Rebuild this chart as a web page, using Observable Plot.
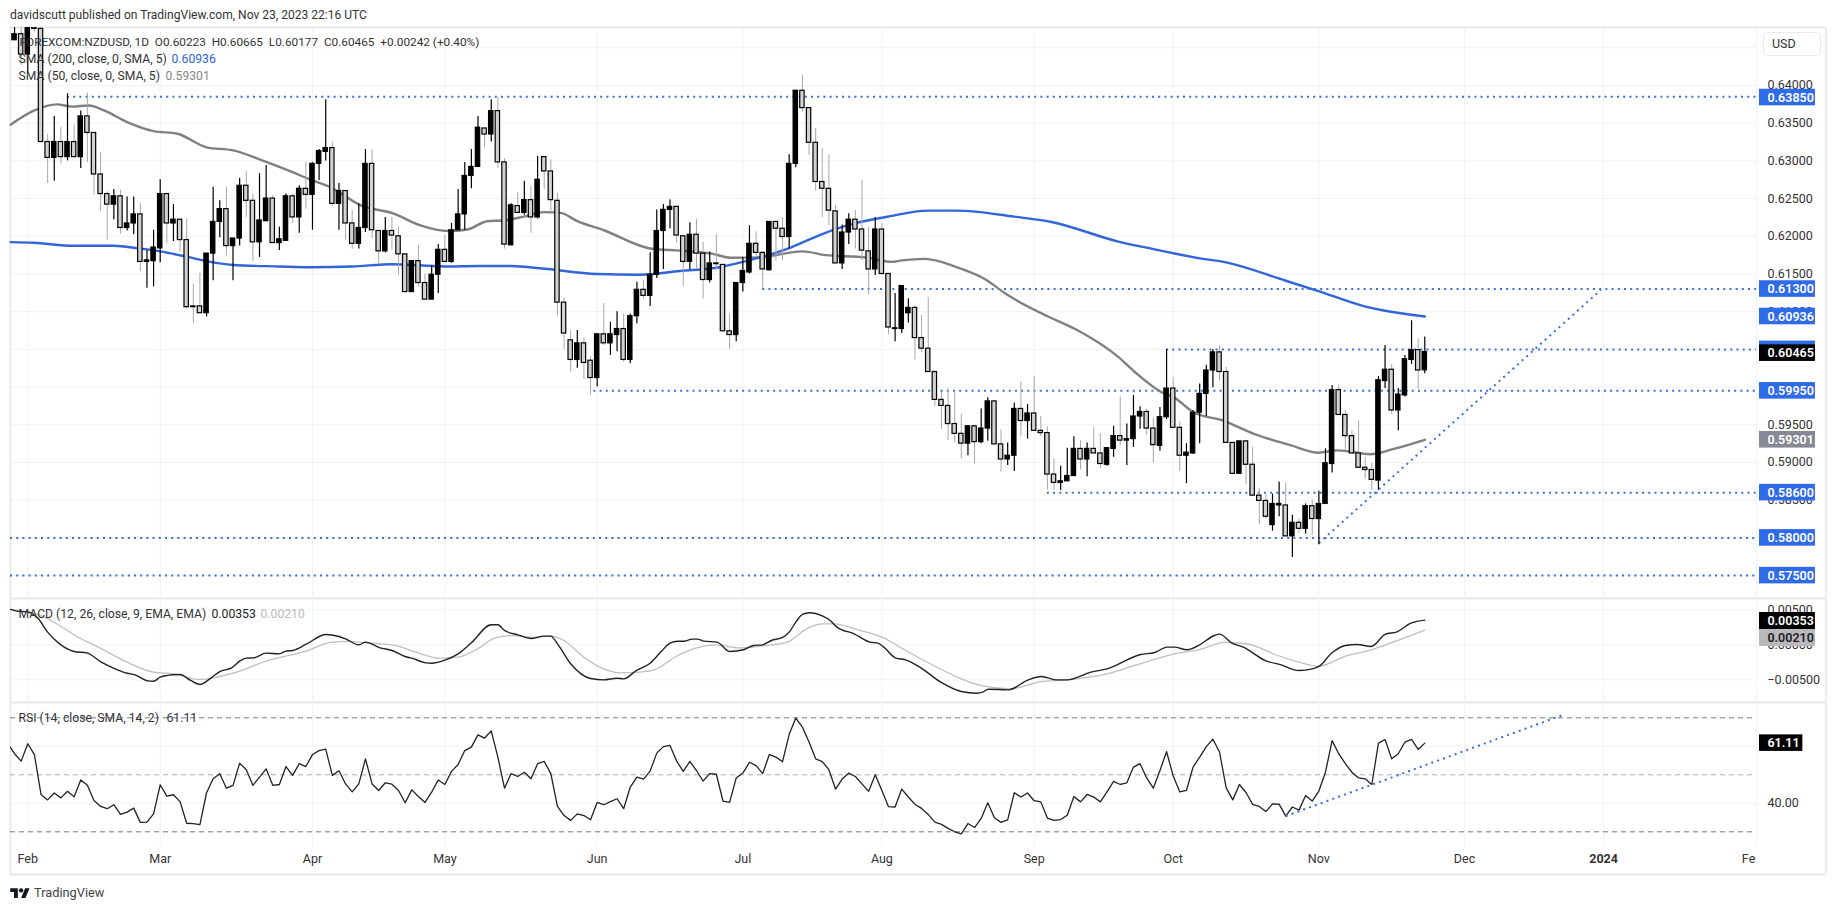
<!DOCTYPE html>
<html>
<head>
<meta charset="utf-8">
<script src="https://cdn.jsdelivr.net/npm/d3@7"></script>
<script src="https://cdn.jsdelivr.net/npm/@observablehq/plot@0.6"></script>
<style>
html,body{margin:0;padding:0;background:#fff;overflow:hidden;}
#page{position:relative;width:1835px;height:909px;font-family:Roboto,sans-serif;color:#333;}
#head{height:27px;line-height:30px;padding-left:10px;font-size:12.05px;box-sizing:border-box;white-space:nowrap;}
#page svg.plot, #page figure{display:block;margin:0;}
#usd{position:absolute;left:1763px;top:32px;width:58px;height:24px;box-sizing:border-box;border:1px solid #ececef;border-radius:4px;background:#fff;font-size:12.5px;line-height:22px;padding-left:8px;color:#333;}
#foot{position:absolute;left:10px;top:884px;height:16px;display:flex;align-items:center;gap:4px;font-size:12.8px;color:#444;}
</style>
</head>
<body>
<div id="page">
  <div id="head">davidscutt published on TradingView.com, Nov 23, 2023 22:16 UTC</div>
  <div id="main"></div>
  <div id="macd"></div>
  <div id="rsi"></div>
  <div id="usd">USD</div>
  <div id="foot"><svg width="20" height="12" viewBox="0 0 36 22"><path fill="#131722" d="M14 22H7V11H0V4h14v18zM28 22h-8l7.5-18h8L28 22z"/><circle fill="#131722" cx="20" cy="8" r="4"/></svg><span>TradingView</span></div>
</div>
<script>
// trading-day number of the first candle (0 = 1 Feb 2023)
const firstBar = -2;
// NZD/USD daily candles, in pips (price x 10000)
const opens = [
6460,6468,6441,6477,6475,6325,6304,6325,6305,6325,
6305,6359,6337,6282,6256,6242,6253,6211,6217,6229,
6166,6167,6184,6256,6217,6222,6195,6107,6107,6098,
6177,6219,6236,6187,6197,6267,6247,6192,6220,6250,
6191,6194,6253,6225,6263,6255,6296,6312,6317,6243,
6260,6217,6190,6211,6296,6207,6180,6207,6200,6176,
6126,6167,6138,6116,6149,6182,6166,6208,6229,6280,
6292,6343,6335,6366,6298,6188,6240,6231,6248,6225,
6305,6286,6247,6112,6062,6036,6058,6035,6012,6070,
6058,6069,6077,6036,6094,6129,6121,6149,6207,6235,
6239,6200,6166,6202,6177,6142,6164,6162,6074,6069,
6138,6152,6190,6178,6155,6219,6210,6199,6296,6393,
6370,6324,6272,6263,6233,6164,6205,6222,6209,6180,
6156,6209,6150,6077,6077,6098,6105,6065,6051,6020,
5983,5975,5951,5938,5925,5948,5927,5945,5981,5924,
5904,5909,5971,5955,5965,5942,5939,5884,5873,5875,
5882,5918,5904,5918,5912,5897,5918,5935,5929,5931,
5961,5967,5945,5922,5960,5998,5946,5909,5912,5966,
5991,6022,6046,6020,5926,5885,5928,5897,5856,5849,
5817,5843,5843,5802,5820,5812,5842,5825,5845,5898,
5996,5963,5935,5912,5893,5890,5876,6008,6023,5969,
5989,6036,6049,6022.3];
const highs = [
6490,6490,6490,6490,6478,6335,6359,6345,6389,6347,
6366,6390,6337,6311,6259,6262,6261,6252,6252,6243,
6181,6208,6275,6256,6242,6222,6223,6137,6151,6177,
6265,6247,6265,6197,6277,6286,6256,6283,6294,6254,
6212,6256,6256,6267,6298,6298,6315,6381,6325,6270,
6260,6234,6243,6315,6315,6207,6225,6225,6212,6176,
6167,6188,6150,6161,6189,6201,6217,6262,6298,6315,
6359,6343,6381,6384,6303,6243,6258,6273,6267,6306,
6305,6301,6257,6118,6075,6075,6065,6040,6070,6111,
6086,6100,6097,6097,6139,6141,6178,6235,6242,6248,
6239,6200,6218,6222,6192,6179,6202,6162,6097,6138,
6172,6214,6206,6178,6219,6219,6225,6308,6393,6413,
6370,6343,6316,6308,6241,6215,6230,6234,6274,6212,
6225,6217,6150,6124,6134,6117,6108,6095,6119,6020,
5993,5998,5993,5964,5948,5948,5971,5986,5981,5943,
5926,5979,6007,5977,6014,5961,5947,5905,5895,5919,
5934,5929,5926,5946,5938,5919,5948,5987,5951,5989,
5974,5971,5958,5973,6050,6013,5954,5925,5969,6004,
6029,6050,6055,6026,5926,5928,5928,5920,5866,5858,
5858,5874,5873,5830,5825,5845,5850,5862,5918,6002,
6002,5969,5942,5955,5907,5899,6014,6055,6030,5998,
6042,6088,6064,6066.5];
const lows = [
6460,6426,6418,6470,6325,6270,6273,6296,6300,6305,
6290,6298,6254,6233,6195,6222,6203,6207,6202,6153,
6131,6133,6165,6190,6193,6179,6104,6084,6098,6093,
6141,6198,6174,6141,6187,6225,6167,6172,6220,6191,
6181,6194,6217,6204,6236,6208,6274,6300,6239,6208,
6195,6183,6183,6205,6197,6163,6178,6181,6149,6126,
6126,6133,6116,6116,6124,6166,6164,6208,6208,6263,
6292,6317,6325,6290,6183,6188,6231,6228,6204,6223,
6262,6232,6094,6050,6020,6025,6010,5990,6000,6055,
6042,6047,6033,6031,6084,6117,6107,6144,6156,6210,
6191,6133,6156,6157,6117,6138,6155,6074,6050,6060,
6126,6150,6172,6130,6154,6167,6168,6183,6291,6365,
6307,6260,6225,6214,6164,6156,6189,6183,6168,6122,
6148,6150,6069,6060,6071,6085,6036,6046,6020,5974,
5944,5929,5926,5905,5909,5898,5925,5928,5924,5887,
5896,5888,5934,5931,5942,5934,5863,5863,5863,5875,
5882,5890,5881,5912,5892,5895,5907,5922,5896,5920,
5944,5936,5900,5915,5957,5946,5888,5872,5911,5925,
5961,5999,6008,5926,5885,5885,5871,5856,5817,5825,
5809,5828,5802,5774,5806,5805,5803,5791,5845,5886,
5963,5916,5912,5893,5878,5863,5863,5998,5964,5942,
5987,6030,5997,6017.7];
const closes = [
6468,6441,6476,6475,6325,6304,6325,6305,6325,6305,
6359,6337,6282,6256,6242,6253,6211,6217,6229,6166,
6168,6185,6256,6217,6222,6195,6106,6106,6098,6177,
6219,6236,6187,6197,6267,6247,6192,6221,6250,6191,
6196,6253,6225,6263,6255,6296,6313,6317,6243,6260,
6217,6190,6211,6296,6208,6180,6207,6201,6176,6126,
6167,6138,6116,6149,6182,6166,6208,6229,6280,6292,
6344,6335,6366,6298,6189,6241,6231,6248,6225,6275,
6286,6248,6112,6071,6036,6058,6032,6012,6070,6058,
6070,6077,6036,6094,6129,6121,6149,6207,6235,6239,
6201,6166,6202,6177,6142,6164,6163,6074,6069,6138,
6154,6190,6178,6156,6219,6210,6199,6296,6393,6370,
6324,6272,6263,6234,6164,6205,6222,6209,6181,6156,
6209,6150,6079,6078,6134,6105,6065,6051,6020,5983,
5975,5951,5938,5925,5948,5927,5945,5981,5924,5904,
5909,5971,5955,5965,5942,5939,5884,5873,5875,5882,
5918,5904,5918,5912,5898,5919,5935,5929,5931,5961,
5967,5945,5923,5960,5998,5946,5909,5913,5966,5991,
6022,6046,6020,5926,5885,5928,5897,5856,5849,5828,
5845,5845,5802,5820,5812,5842,5825,5845,5899,5996,
5963,5935,5912,5893,5890,5877,6009,6023,5969,5990,
6037,6049,6022,6046.5];

// moving averages read at turning points: trading-day number, pips
const sma200Day = [-2.6,0.9,7,13,16.7,20,24,27,31,38,42.7,49,55,63,68.4,73,78,86,92.5,98.5,104.5,108,114.6,120,124.8,129.6,136,140.3,149,154.6,164.7,170,178,180,190,194.7,201.9,211];
const sma200Pips = [6192.3,6191.4,6187.4,6187.4,6184,6180,6173,6167,6162,6160,6159,6160,6163,6160,6160.5,6160.5,6157,6150,6149,6154,6159,6166,6183,6203,6217,6225.5,6234,6234,6226,6219,6193,6183,6169.3,6167,6141,6128,6107,6093.6];
const sma50Day = [-2.6,1,4.4,6.7,9.2,11.5,15,19,22.6,27,31,36.2,40,42.7,45.7,50.3,55.3,59.3,63.5,66.4,69.4,71.9,74.9,77.9,80.5,83,87,94.2,98.4,103.3,106.2,110.4,117,120.5,126.5,130.5,132,135.5,140.3,144.4,148,154,158.2,164.7,167.2,171.3,173,176,180.7,185.2,190.7,195,197.8,202.8,206.3,211];
const sma50Pips = [6348,6367,6375,6372,6373.5,6367,6351.5,6339.5,6336,6318,6314,6298,6285,6275,6265,6241,6230,6214.4,6207,6209,6220,6221,6226,6232,6231,6220,6208,6183.5,6181,6177,6171.5,6172,6180,6175,6172,6166,6168,6170,6159,6144,6122,6094,6077,6040,6020,5993,5987,5967,5955,5938,5923,5913,5916,5911,5918,5930.1];

// MACD (x 1000)
const macdDay = [-2.6,-1.7,0.1,1.6,3,4.8,7,9,11.1,13.2,15,16.2,18.1,19,20,21.9,23,24.6,26,27.5,29,30.8,32,33,34.1,36,38,39,40,42,45,47,48,50,51,53.2,55,57,58,60.1,61,63.1,65,67,70,71,72,74,76,78,79,80,82,85,87,89,90,91.9,94,95.8,97,98.2,99.2,100.3,101.2,102.1,104.1,106,108.1,109.6,111,112.3,114,115,116.1,117,118.1,120,121.2,122.2,124.8,127.2,128.4,129.3,131.1,132.6,134.9,137.9,141,143.3,144.2,145.1,148.1,151.1,153.1,155.3,157,160.6,163,168.1,170.2,172.1,173.2,175.1,177,179.2,180,181.8,183.6,186.9,189.3,192,194,195,197,199,200.8,202.9,205,206.8,208.9,211];
const macdVals = [5.05,4.81,4.66,3.71,1.81,0.14,-0.95,-1.19,-2.48,-3.43,-4.05,-4.28,-5.14,-5.19,-4.62,-4.28,-4.24,-5.09,-5.66,-4.86,-3.81,-3.28,-2.33,-1.9,-1.86,-1.19,-1.29,-0.9,-0.81,0.05,1.48,1.19,0.86,0,0.38,-0.43,-0.81,-1.67,-1.9,-2.57,-2.62,-2.14,-1.29,0.29,2.86,2.86,2.05,1.43,0.9,1.24,1.24,0.14,-2.71,-4.81,-5,-4.76,-4.86,-3.67,-2.62,-0.81,0.24,0.52,0.52,0.81,0.81,0.52,0.38,-0.95,-0.71,-0.1,0,0.62,1.05,1.81,3.38,4.33,4.57,4.14,3.47,2.52,1.57,0.38,0.24,-0.33,-1.9,-2.14,-3.28,-5.33,-6.66,-6.9,-6.76,-6.33,-6.43,-5,-4.52,-5,-5,-3.9,-3.43,-1.38,-1.1,-0.33,-0.33,-0.71,0,1.33,1.52,0.29,-0.33,-2.24,-2.86,-3.67,-3.43,-3.09,-1.14,-0.1,0.05,-0.24,1.48,1.86,3.09,3.53];
const signalDay = [-2.6,1.9,4.8,8,10,15,19,22,26,29,31,36,42,46,48.4,51,55.6,58.6,62.2,65,68.2,70.5,73.5,76,79,81,84,87,89.5,92.5,95,97.9,101,104,107.5,111.7,114.7,117.6,120,121.8,125.4,129,132.6,136.8,141,144,148.4,153,157,163,167.2,173.2,176.8,181,182.4,184.8,188.4,192,195,199,202.9,206.2,211];
const signalVals = [5.05,4.19,2.76,0.86,0,-2.48,-3.9,-4.14,-4.95,-4.52,-4.05,-2.33,-0.9,0.38,0.48,0.29,-0.1,-1.05,-1.9,-1.76,-0.43,0.95,1.33,1.09,1.24,0.62,-1.76,-3.43,-4,-3.9,-3.43,-1.67,-0.43,0,-0.43,-0.1,0.38,2.28,3,3,2.14,1.09,-0.81,-2.95,-4.86,-5.81,-6.28,-5.24,-5,-4.14,-2.95,-1.29,-0.71,0.38,0.29,0,-1.38,-2.48,-3.05,-1.62,-0.71,0.38,2.1];

// RSI(14), one value per bar from day -3
const rsiFirst = -3;
const rsiVals = [
60.9,57.4,54.8,60.9,57.1,43.1,41.2,43.6,41.9,44.2,42.3,48.2,46.3,
41,38.9,38.1,39.5,36.1,36.9,38.3,33.3,33.4,36.3,
46.5,42.5,43,40.6,33,32.9,32.5,43.7,48.6,50.4,
45.3,46.3,54.1,51.8,46.3,49.2,52.1,46.3,46.6,52.9,
49.8,53.9,52.9,57.1,58.5,59,49.8,51.4,46.8,44,
46.8,55.6,46.8,44.5,47.2,46.7,44.5,40.2,44.7,42.4,
40.3,43.9,48.2,46.6,51.2,53.6,58.5,59.7,64,62.9,
65.4,56.2,45.3,50.4,49.4,50.9,48.6,53.9,54.7,50.4,
38.9,35.7,34,36.3,35.7,34.2,40.3,39.5,40.6,41.6,
38.1,45.7,49.2,48.5,51.3,57.6,59.9,60.3,54.8,51.2,
54.7,51.5,47.8,50.4,50.2,40.8,40.3,48.9,50.6,54.4,
53.2,50.4,57.1,56.2,54.6,64.2,69.9,66.7,61.5,55.6,
54.6,51.8,45,48.5,50.6,49.4,46.8,44.2,50,44.5,
38.8,38.7,45,42.2,39.6,38.2,36.1,33.4,32.6,31.2,
30,29.3,32.9,31.5,34.7,40.2,34.9,33.3,34.2,43.7,
42.2,43.6,40.9,40.5,34.8,34,34.3,35.8,42.4,40.5,
43.1,42.2,40.5,44,47.7,46.6,47.2,52.7,53.9,48.9,
45.3,51.5,58.1,49.6,44,44.5,52.7,56.2,59.9,62.5,
58,45.4,41.2,46.6,43.8,39.6,38.9,37.1,39.8,39.7,
35.5,38.7,37.6,42.7,40.8,44.3,50.9,62,57.4,53.9,
50.9,48.9,48.6,46.6,61.1,62.4,55.6,57.4,61.5,62.4,
58.9,61.11];

// analyst levels and trend lines
const levelPrices = [0.6385,0.6130,0.6050,0.5995,0.5860,0.5800,0.5750];
const levelStarts = [6,111,172,85.5,154,-2.61,-2.61];
const trendDays = [195,237.6];
const trendPrices = [0.5793,0.6129];
const rsiTrendDays = [190,232.1];
const rsiTrendVals = [35.5,71.2];

// axes
const priceGrid = [0.645,0.64,0.635,0.63,0.625,0.62,0.615,0.61,0.605,0.60,0.595,0.59,0.585,0.58,0.575];
const priceTicks = [0.64,0.635,0.63,0.625,0.62,0.615,0.61,0.595,0.59,0.585];
const macdTicks = [0.005,0,-0.005];
const gridDays = [0,20,43,63,86,108,129,152,173,195,217,238];
const timeDays = [0,20,43,63,86,108,129,152,173,195,217,238,259.9];
const timeLabels = ["Feb","Mar","Apr","May","Jun","Jul","Aug","Sep","Oct","Nov","Dec","2024","Fe"];

const FONT = "Roboto, sans-serif";
const INK = "#333";
const GRID = "#f1f2f5";
const EDGE = "#e6e7ea";
const BLUE = "#2f6ae8";
const LINEBLUE = "#3265d8";
const DOT = "#3b6fd6";
const DOTS = "2 4.2";
const xDomain = [-2.61,261.1];
const edgeRight = 271.6;      // day number of the outer frame's right edge
const boxLeft = 261.55, boxRight = 270, textLeft = 262.75;
const xOpts = {domain:xDomain,axis:null};
const base = {width:1835,marginLeft:10,marginRight:79,marginTop:0,marginBottom:0,x:xOpts};
const style = {fontFamily:FONT,fontSize:"12px",background:"#fff",color:INK,overflow:"visible"};

const bars = opens.map((o,i)=>({day:i+firstBar,o:o/1e4,h:highs[i]/1e4,l:lows[i]/1e4,c:closes[i]/1e4}));
const up = bars.filter(d=>d.c>=d.o), down = bars.filter(d=>d.c<d.o);
const zip = (a,b,f=1)=>a.map((x,i)=>({x,y:b[i]*f}));

function legend(text,dx,dy,fill,size=12.2){
  return Plot.text([text],{text:d=>d,frameAnchor:"top-left",lineAnchor:"middle",dx,dy,fill,fontSize:size});
}
function gridV(){return Plot.ruleX(gridDays,{stroke:GRID,strokeWidth:1});}

// ---------- price pane ----------
const priceTop = 0.64769, priceBottom = 0.57196;
const pHalf = 0.0011;
const levelRows = levelPrices.map((p,i)=>({p,s:levelStarts[i]}));
const priceBoxes = [
  {v:0.6384,t:"0.63850",f:BLUE},
  {v:0.6130,t:"0.61300",f:BLUE},
  {v:0.60936,t:"0.60936",f:BLUE},
  {v:0.6050,t:"",f:BLUE},
  {v:0.6045,t:"0.60465",f:"#000"},
  {v:0.5995,t:"0.59950",f:BLUE},
  {v:0.59301,t:"0.59301",f:"#868993"},
  {v:0.5860,t:"0.58600",f:BLUE},
  {v:0.5800,t:"0.58000",f:BLUE},
  {v:0.5750,t:"0.57500",f:BLUE}
];
const mainPlot = Plot.plot({...base,height:571,y:{domain:[priceBottom,priceTop],axis:null},style,marks:[
  Plot.ruleY(priceGrid,{stroke:GRID}),
  gridV(),
  Plot.ruleX([xDomain[1]],{stroke:GRID}),
  Plot.ruleY([priceTop],{x1:()=>xDomain[0],x2:()=>edgeRight,stroke:EDGE,strokeWidth:2}),
  Plot.ruleY([priceBottom],{x1:()=>xDomain[0],x2:()=>edgeRight,stroke:EDGE,strokeWidth:2}),
  Plot.ruleX([xDomain[0],edgeRight],{stroke:EDGE,strokeWidth:1.5}),
  Plot.ruleY(levelRows,{y:"p",x1:"s",x2:()=>xDomain[1],stroke:DOT,strokeWidth:2,strokeDasharray:DOTS}),
  Plot.line(zip(trendDays,trendPrices),{x:"x",y:"y",stroke:DOT,strokeWidth:2,strokeDasharray:DOTS,strokeLinecap:"butt"}),
  Plot.line(zip(sma50Day,sma50Pips,1e-4),{x:"x",y:"y",stroke:"#808080",strokeWidth:2.4,curve:"monotone-x"}),
  Plot.line(zip(sma200Day,sma200Pips,1e-4),{x:"x",y:"y",stroke:LINEBLUE,strokeWidth:2.4,curve:"monotone-x"}),
  Plot.ruleX(down,{x:"day",y1:"l",y2:"h",stroke:"#a8a8a8",strokeWidth:1,clip:true}),
  Plot.ruleX(up,{x:"day",y1:"l",y2:"h",stroke:"#000",strokeWidth:1.2,clip:true}),
  Plot.rect(down,{x1:d=>d.day-0.33,x2:d=>d.day+0.33,y1:"o",y2:"c",fill:"#d2d2d2",stroke:"#000",strokeWidth:1.2,clip:true}),
  Plot.rect(up,{x1:d=>d.day-0.33,x2:d=>d.day+0.33,y1:"o",y2:"c",fill:"#000",stroke:"#000",strokeWidth:1.2,clip:true}),
  Plot.text(priceTicks,{x:()=>textLeft,y:d=>d,text:d=>d.toFixed(5),textAnchor:"start",fill:INK,fontSize:12.5}),
  Plot.rect(priceBoxes,{x1:()=>boxLeft,x2:()=>boxRight,y1:d=>d.v-pHalf,y2:d=>d.v+pHalf,fill:"f"}),
  Plot.text(priceBoxes.filter(d=>d.t),{x:()=>textLeft,y:"v",text:"t",textAnchor:"start",fill:"#fff",fontSize:12.5,fontWeight:600}),
  legend("FOREXCOM:NZDUSD, 1D\u00A0\u00A0O0.60223\u00A0\u00A0H0.60665\u00A0\u00A0L0.60177\u00A0\u00A0C0.60465\u00A0\u00A0+0.00242 (+0.40%)",9,15,INK,11.8),
  legend("SMA (200, close, 0, SMA, 5)",8,32,INK),
  legend("0.60936",161,32,"#2f62d8"),
  legend("SMA (50, close, 0, SMA, 5)",8,49,INK),
  legend("0.59301",155,49,"#888")
]});
document.getElementById("main").append(mainPlot);

// ---------- MACD pane ----------
const macdTop = 0.00661, macdBottom = -0.00823, mHalf = 0.00121;
const macdBoxes = [
  {v:0.00097,t:"0.00210",f:"#b8b8bd",c:"#222"},
  {v:0.0034,t:"0.00353",f:"#000",c:"#fff"}
];
const macdPlot = Plot.plot({...base,height:104,y:{domain:[macdBottom,macdTop],axis:null},style,marks:[
  Plot.ruleY(macdTicks,{stroke:GRID}),
  gridV(),
  Plot.ruleX([xDomain[1]],{stroke:GRID}),
  Plot.ruleY([macdBottom],{x1:()=>xDomain[0],x2:()=>edgeRight,stroke:EDGE,strokeWidth:2}),
  Plot.ruleX([xDomain[0],edgeRight],{stroke:EDGE,strokeWidth:1.5}),
  Plot.line(zip(signalDay,signalVals,1e-3),{x:"x",y:"y",stroke:"#bfbfbf",strokeWidth:1.3,curve:"monotone-x"}),
  Plot.line(zip(macdDay,macdVals,1e-3),{x:"x",y:"y",stroke:"#222",strokeWidth:1.4,curve:"monotone-x",clip:true}),
  Plot.text(macdTicks,{x:()=>textLeft,y:d=>d,text:d=>d.toFixed(5).replace("-","\u2212"),textAnchor:"start",fill:INK,fontSize:12.5}),
  Plot.rect(macdBoxes,{x1:()=>boxLeft,x2:()=>boxRight,y1:d=>d.v-mHalf,y2:d=>d.v+mHalf,fill:"f"}),
  Plot.text(macdBoxes,{x:()=>textLeft,y:"v",text:"t",textAnchor:"start",fill:"c",fontSize:12.5,fontWeight:600}),
  legend("MACD (12, 26, close, 9, EMA, EMA)",8,16,INK),
  legend("0.00353",201,16,"#222"),
  legend("0.00210",250,16,"#bbb")
]});
document.getElementById("macd").append(macdPlot);

// ---------- RSI pane (with the time axis below it) ----------
const rsiTop = 75.37, rsiBottom = 24.49, rsiFloor = 15, timeY = 20.3, rHalf = 2.9;
const rsiRows = rsiVals.map((y,i)=>({x:i+rsiFirst,y}));
const rsiPlot = Plot.plot({...base,height:172,marginBottom:27,y:{domain:[rsiBottom,rsiTop],axis:null},style,marks:[
  Plot.ruleY([40,60],{stroke:GRID}),
  gridV(),
  Plot.ruleX([xDomain[1]],{stroke:GRID}),
  Plot.ruleY([rsiFloor],{x1:()=>xDomain[0],x2:()=>edgeRight,stroke:EDGE,strokeWidth:2}),
  Plot.ruleX([xDomain[0],edgeRight],{y1:()=>rsiTop,y2:()=>rsiFloor,stroke:EDGE,strokeWidth:1.5}),
  Plot.ruleY([70,30],{stroke:"#787b86",strokeWidth:1,strokeDasharray:"5 4"}),
  Plot.ruleY([50],{stroke:"#a9abb3",strokeWidth:1,strokeDasharray:"5 4"}),
  Plot.line(rsiRows,{x:"x",y:"y",stroke:"#222",strokeWidth:1.3,clip:true}),
  Plot.line(zip(rsiTrendDays,rsiTrendVals),{x:"x",y:"y",stroke:DOT,strokeWidth:2,strokeDasharray:DOTS,strokeLinecap:"butt"}),
  Plot.text([40],{x:()=>textLeft,y:d=>d,text:d=>d.toFixed(2),textAnchor:"start",fill:INK,fontSize:12.5}),
  Plot.rect([61.11],{x1:()=>boxLeft,x2:()=>268.1,y1:d=>d-rHalf,y2:d=>d+rHalf,fill:"#000"}),
  Plot.text([61.11],{x:()=>textLeft,y:d=>d,text:d=>d.toFixed(2),textAnchor:"start",fill:"#fff",fontSize:12.5,fontWeight:600}),
  Plot.text(timeDays.map((d,i)=>({d,t:timeLabels[i]})).filter(r=>r.t!=="2024"),{x:"d",y:()=>timeY,text:"t",fill:INK,fontSize:12.5}),
  Plot.text([{d:238,t:"2024"}],{x:"d",y:()=>timeY,text:"t",fill:INK,fontSize:12.5,fontWeight:700}),
  legend("RSI (14, close, SMA, 14, 2)",8,16,INK),
  legend("61.11",156,16,INK)
]});
document.getElementById("rsi").append(rsiPlot);
</script>
</body>
</html>
